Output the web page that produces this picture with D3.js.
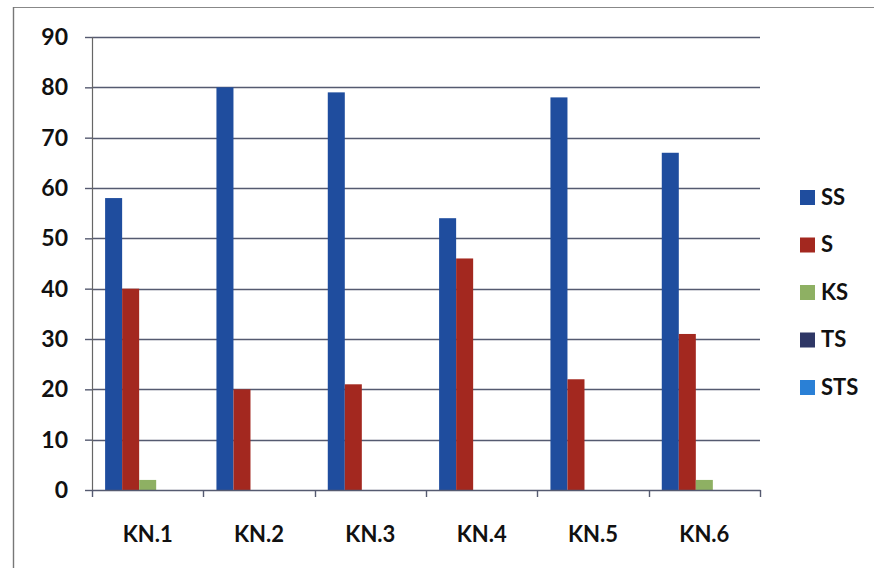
<!DOCTYPE html>
<html>
<head>
<meta charset="utf-8">
<script src="https://cdn.jsdelivr.net/npm/d3@7"></script>
<style>
  html, body { margin: 0; padding: 0; background: #fff; }
  svg { display: block; }
</style>
</head>
<body>
<svg id="chart" width="874" height="568"></svg>
<script>
// Categories and series
const categories = ["KN.1", "KN.2", "KN.3", "KN.4", "KN.5", "KN.6"];
const seriesNames = ["SS", "S", "KS", "TS", "STS"];
const ssValues  = [58, 80, 79, 54, 78, 67];
const sValues   = [40, 20, 21, 46, 22, 31];
const ksValues  = [2, 0, 0, 0, 0, 2];
const tsValues  = [0, 0, 0, 0, 0, 0];
const stsValues = [0, 0, 0, 0, 0, 0];
const yTicks = [0, 10, 20, 30, 40, 50, 60, 70, 80, 90];
const seriesColors = ["#1f4d9e", "#a3281f", "#8eb063", "#2f3766", "#2a80d6"];

const seriesValues = [ssValues, sValues, ksValues, tsValues, stsValues];

const svg = d3.select("#chart");
const fontFamily = "Lato, 'Open Sans', sans-serif";

// Frame: top edge and left edge
svg.append("line")
  .attr("x1", 13).attr("x2", 874).attr("y1", 7.5).attr("y2", 7.5)
  .attr("stroke", "#888").attr("stroke-width", 1.2);
svg.append("line")
  .attr("x1", 13.5).attr("x2", 13.5).attr("y1", 7).attr("y2", 568)
  .attr("stroke", "#777").attr("stroke-width", 1.4);

const plot = { left: 92, right: 760, top: 37, bottom: 490 };

const x = d3.scaleBand().domain(categories).range([plot.left, plot.right]).paddingInner(0).paddingOuter(0);
const xInner = d3.scaleBand().domain(seriesNames).range([0, x.bandwidth()]).paddingInner(0).paddingOuter(0.77);
const y = d3.scaleLinear().domain([0, 90]).range([plot.bottom, plot.top]);

// Gridlines
svg.append("g")
  .selectAll("line")
  .data(yTicks.filter(t => t > 0))
  .join("line")
  .attr("x1", plot.left).attr("x2", plot.right)
  .attr("y1", d => Math.round(y(d)) + 0.5).attr("y2", d => Math.round(y(d)) + 0.5)
  .attr("stroke", "#555a70").attr("stroke-width", 1.4);

// Bars
const groups = svg.append("g")
  .selectAll("g")
  .data(categories)
  .join("g")
  .attr("transform", d => `translate(${x(d)},0)`);

groups.selectAll("rect")
  .data((c, i) => seriesNames.map((s, k) => ({ s, k, v: seriesValues[k][i] })))
  .join("rect")
  .attr("x", d => xInner(d.s))
  .attr("width", xInner.bandwidth())
  .attr("y", d => y(d.v))
  .attr("height", d => y(0) - y(d.v))
  .attr("fill", d => seriesColors[d.k]);

// Y axis
const yAxis = svg.append("g")
  .attr("transform", `translate(${plot.left},0)`)
  .call(d3.axisLeft(y).tickValues(yTicks).tickSize(7).tickPadding(17));
yAxis.select(".domain").attr("stroke", "#666").attr("stroke-width", 1.2);
yAxis.selectAll(".tick line").attr("stroke", "#555a70").attr("stroke-width", 1.4);
yAxis.selectAll("text")
  .attr("font-family", fontFamily).attr("font-weight", "bold")
  .attr("font-size", 23).attr("fill", "#111");

// X axis
const xAxis = svg.append("g")
  .attr("transform", `translate(0,${plot.bottom})`)
  .call(d3.axisBottom(x).tickSize(0).tickPadding(0));
xAxis.select(".domain").attr("stroke", "#555a70").attr("stroke-width", 1.4);
xAxis.selectAll("text")
  .attr("y", 52).attr("dy", 0)
  .attr("font-family", fontFamily).attr("font-weight", "bold")
  .attr("font-size", 22).attr("fill", "#111");

// Category boundary ticks
const bounds = categories.map(c => x(c)).concat([plot.right]);
xAxis.append("g").selectAll("line")
  .data(bounds)
  .join("line")
  .attr("x1", d => Math.round(d) + 0.5).attr("x2", d => Math.round(d) + 0.5)
  .attr("y1", 0).attr("y2", 7)
  .attr("stroke", "#555a70").attr("stroke-width", 1.4);

// Legend
const legend = svg.append("g")
  .selectAll("g")
  .data(seriesNames)
  .join("g")
  .attr("transform", (d, i) => `translate(800,${197 + i * 47.5})`);
legend.append("rect")
  .attr("x", 0).attr("y", -7).attr("width", 15).attr("height", 15)
  .attr("fill", (d, i) => seriesColors[i]);
legend.append("text")
  .attr("x", 21).attr("y", 0).attr("dy", "0.36em")
  .attr("font-family", fontFamily).attr("font-weight", "bold")
  .attr("font-size", 22).attr("fill", "#111")
  .text(d => d);
</script>
</body>
</html>
